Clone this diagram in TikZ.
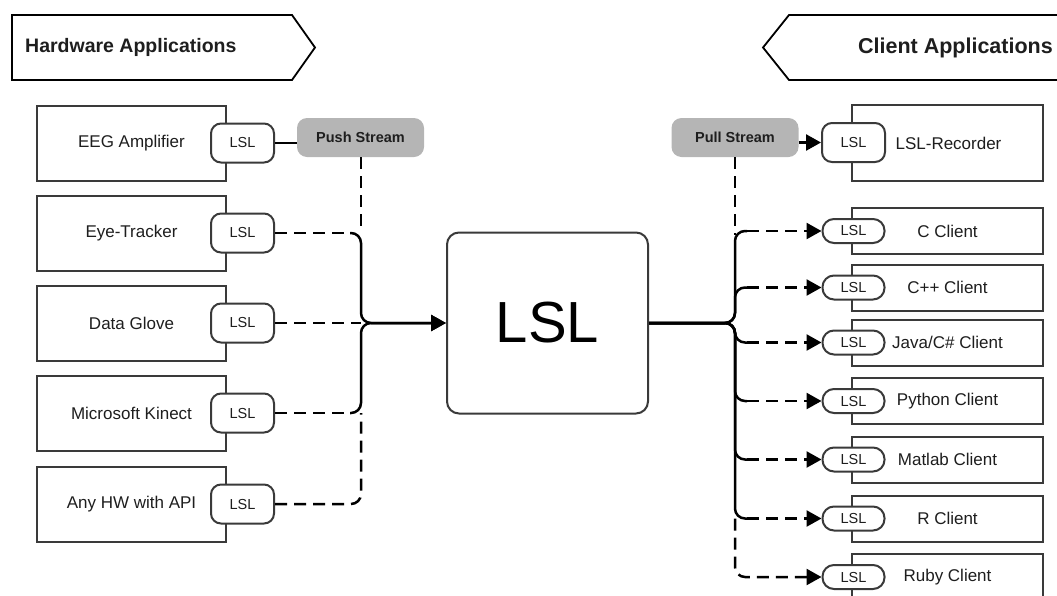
\documentclass[tikz,border=0pt]{standalone}
\usepackage{fontspec}
\setmainfont{Liberation Sans}
\usetikzlibrary{arrows.meta,calc}
\definecolor{edgegray}{HTML}{3A3A3A}
\definecolor{streamfill}{HTML}{B5B5B5}
\definecolor{ink}{HTML}{1E1E1E}
\tikzset{
  banner/.style={draw=black, line width=1.8pt, fill=white, line join=miter},
  bannertext/.style={font=\bfseries\fontsize{19.5}{22}\selectfont, text=ink, inner sep=0pt},
  appbox/.style={draw=edgegray, line width=2pt, fill=white, minimum width=189pt,
    minimum height=75pt, inner sep=0pt, text=ink, font=\fontsize{17}{20}\selectfont},
  clientbox/.style={draw=edgegray, line width=2pt, fill=white, minimum width=191pt,
    minimum height=46pt, inner sep=0pt, text=ink, font=\fontsize{17}{20}\selectfont},
  tagbig/.style={draw=edgegray, line width=2pt, fill=white, rounded corners=10pt,
    minimum width=63pt, minimum height=39pt, inner sep=0pt, text=ink,
    font=\fontsize{14.5}{16}\selectfont},
  tagpill/.style={draw=edgegray, line width=2pt, fill=white, rounded corners=11.5pt,
    minimum width=62pt, minimum height=24pt, inner sep=0pt, text=ink,
    font=\fontsize{14.5}{16}\selectfont},
  streambox/.style={fill=streamfill, rounded corners=10pt, minimum width=127pt,
    minimum height=39pt, inner sep=0pt, text=ink, font=\bfseries\fontsize{14.5}{16}\selectfont},
  corebox/.style={draw=edgegray, line width=2pt, fill=white, rounded corners=12pt,
    minimum width=201pt, minimum height=181pt, inner sep=0pt, text=black,
    font=\fontsize{58}{60}\selectfont},
  flow/.style={draw=black, line width=2.5pt},
  dashflow/.style={draw=black, line width=2.5pt, dash pattern=on 12pt off 7pt},
  tip/.style={-{Triangle[length=15pt,width=16pt]}},
}
\begin{document}
\begin{tikzpicture}[x=1pt,y=-1pt]
\useasboundingbox (0,0) rectangle (1057,595);
\clip (0,0) rectangle (1057,595);

% section banners
\draw[banner] (12,15) -- (292,15) -- (315,47.5) -- (292,80) -- (12,80) -- cycle;
\node[bannertext, anchor=west] (hwtitle) at (25,47.5) {Hardware Applications};
\draw[banner] (1075,15) -- (789,15) -- (763,47.5) -- (789,80) -- (1075,80);
\node[bannertext, font=\bfseries\fontsize{21.5}{24}\selectfont, anchor=east] (cltitle) at (1053,47.5) {Client Applications};

% hardware sources with their outlets
\foreach \n/\y/\t in {eeg/143/EEG Amplifier, eye/233/Eye-Tracker, glove/323/Data Glove,
                      kinect/413/Microsoft Kinect, anyhw/504/Any HW with API} {
  \node[appbox] (\n) at (131.5,\y) {\t};
  \node[tagbig] (t\n) at (242.5,\y) {LSL};
}

% client applications with their inlets
\node[appbox, minimum width=191pt, minimum height=76pt] (rec) at (947.5,143) {\hspace*{2pt}LSL-Recorder};
\node[tagbig] (trec) at (853.5,142.5) {LSL};
\foreach \n/\y/\t in {cc/231/C Client, cpp/287.5/C++ Client, java/342.5/{Java/C\# Client},
                      py/401/Python Client, mat/459.5/Matlab Client, rc/518.5/R Client,
                      ruby/577/Ruby Client} {
  \node[clientbox] (\n) at (947.5,\y) {\t};
  \node[tagpill] (t\n) at (853.5,\y) {LSL};
}

% stream labels and the core
\node[streambox] (push) at (360.5,137.5) {Push Stream};
\node[streambox] (pull) at (735,137.5) {Pull Stream};
\node[corebox] (lsl) at (547.5,323) {LSL};

\coordinate (lbus) at (361,323);
\coordinate (rbus) at (735,323);

% outlets into LSL
\draw[flow] (teeg.east) -- (teeg.east -| push.west);
\draw[dashflow] (push.south -| lbus) -- (lbus |- teye.east);
\draw[dashflow] (teye.east) -- ($(lbus |- teye.east)+(-11,0)$);
\draw[flow, tip, rounded corners=10pt] ($(lbus |- teye.east)+(-11,0)$) -| (lbus) -- (lsl.west);
\draw[dashflow] (tkinect.east) -- ($(lbus |- tkinect.east)+(-11,0)$);
\draw[flow, tip, rounded corners=10pt] ($(lbus |- tkinect.east)+(-11,0)$) -| (lbus) -- (lsl.west);
\draw[dashflow] (tglove.east) -- (lbus);
\draw[dashflow, rounded corners=10pt] (tanyhw.east) -| (lbus |- tkinect.east);

% LSL out to the clients
\draw[flow, tip] (pull.east |- trec.west) -- (trec.west);
\draw[dashflow] (pull.south) -- ($(rbus |- tcc.west)+(0,4)$);
\foreach \k in {cc,cpp,java,py,mat,rc} {
  \draw[flow, rounded corners=10pt] (lsl.east) -| (rbus |- t\k.west) -- ++(12,0) coordinate (s\k);
  \draw[dashflow, tip] (s\k) -- (t\k.west);
}
\draw[dashflow, tip, rounded corners=10pt] (rbus |- trc.west) |- (truby.west);
\end{tikzpicture}
\end{document}
